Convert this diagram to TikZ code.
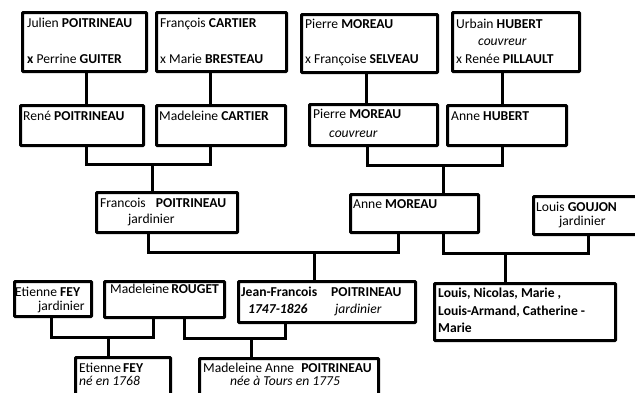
\documentclass[tikz,border=0pt]{standalone}
\usepackage{fontspec}
\setmainfont{Carlito}
\usetikzlibrary{shadows,backgrounds}
\begin{document}
\begin{tikzpicture}[x=1pt,y=-1pt,
  box/.style={draw=black,line width=3pt,anchor=north west,inner sep=0pt,fill=white,rounded corners=0.8pt,
    drop shadow={shadow xshift=1.2pt,shadow yshift=-1.2pt,fill=black,opacity=0.3}},
  txt/.style={anchor=base west,inner sep=0pt,font=\fontsize{13.6}{17}\selectfont},
  link/.style={line width=3pt,line join=miter}
]
\useasboundingbox (0,0) rectangle (635,392);
\clip (0,0) rectangle (635,392);

% generation 1
\node[box,minimum width=124pt,minimum height=59pt] (b1) at (21,11) {};
\node[box,minimum width=130pt,minimum height=59pt] (b2) at (155,11) {};
\node[box,minimum width=136pt,minimum height=58pt] (b3) at (300,13) {};
\node[box,minimum width=127pt,minimum height=59pt] (b4) at (451,11) {};
% generation 2
\node[box,minimum width=123pt,minimum height=40pt] (r1) at (19,104) {};
\node[box,minimum width=129pt,minimum height=40pt] (r2) at (155,104) {};
\node[box,minimum width=128pt,minimum height=41pt] (r3) at (308,103) {};
\node[box,minimum width=119pt,minimum height=40pt] (r4) at (446,104) {};
% generation 3
\node[box,minimum width=141pt,minimum height=40pt] (f1) at (95,191) {};
\node[box,minimum width=128pt,minimum height=38pt] (f2) at (349,193) {};
\node[box,minimum width=120pt,minimum height=38pt] (f3) at (532,195) {};
% generation 4
\node[box,minimum width=77pt,minimum height=35pt] (g1) at (13,280) {};
\node[box,minimum width=120pt,minimum height=36pt] (g2) at (103,280) {};
\node[box,minimum width=177pt,minimum height=41pt] (g3) at (237,280) {};
\node[box,minimum width=181pt,minimum height=57pt] (g4) at (433,282) {};
% generation 5
\node[box,minimum width=95pt,minimum height=50pt] (h1) at (74,356) {};
\node[box,minimum width=179pt,minimum height=50pt] (h2) at (198,357) {};

% texts
\node[txt] (t1) at (27,27) {Julien \textbf{POITRINEAU}};
\node[txt] (t2) at (27,63) {\textbf{x} Perrine \textbf{GUITER}};
\node[txt] (t3) at (160,27) {François \textbf{CARTIER}};
\node[txt] (t4) at (160,63) {x Marie \textbf{BRESTEAU}};
\node[txt] (t5) at (305,28) {Pierre \textbf{MOREAU}};
\node[txt] (t6) at (305,63) {x Françoise \textbf{SELVEAU}};
\node[txt] (t7) at (456,28) {Urbain \textbf{HUBERT}};
\node[txt] (t8) at (478,45) {\textit{couvreur}};
\node[txt] (t9) at (456,63) {x Renée \textbf{PILLAULT}};
\node[txt] (t10) at (23,120) {René \textbf{POITRINEAU}};
\node[txt] (t11) at (159,120) {Madeleine \textbf{CARTIER}};
\node[txt] (t12) at (313,118) {Pierre \textbf{MOREAU}};
\node[txt] (t13) at (329,137) {\textit{couvreur}};
\node[txt] (t14) at (451,120) {Anne \textbf{HUBERT}};
\node[txt] (t15) at (100,207) {Francois\hspace{7pt} \textbf{POITRINEAU}};
\node[txt] (t16) at (128,223) {jardinier};
\node[txt] (t17) at (353,208) {Anne \textbf{MOREAU}};
\node[txt] (t18) at (536,211) {Louis \textbf{GOUJON}};
\node[txt] (t19) at (559,225) {jardinier};
\node[txt] (t20) at (15,296) {Etienne \textbf{FEY}};
\node[txt] (t21) at (38,310) {jardinier};
\node[txt] (t22) at (110,293) {Madeleine\hspace{-1pt} \textbf{ROUGET}};
\node[txt] (t23) at (241,296) {\textbf{Jean-Francois}};
\node[txt] (t24) at (331,296) {\textbf{POITRINEAU}};
\node[txt] (t25) at (248,313) {\textbf{\textit{1747-1826}}};
\node[txt] (t26) at (335,313) {\textit{jardinier}};
\node[txt] (t27) at (438,297) {\textbf{Louis, Nicolas, Marie ,}};
\node[txt] (t28) at (438,315) {\textbf{Louis-Armand, Catherine -}};
\node[txt] (t29) at (438,332) {\textbf{Marie}};
\node[txt] (t30) at (79,372) {Etienne\hspace{-1pt} \textbf{FEY}};
\node[txt] (t31) at (79,385) {\textit{né en 1768}};
\node[txt] (t32) at (203,372) {Madeleine Anne\hspace{4pt} \textbf{POITRINEAU}};
\node[txt] (t33) at (230,385) {\textit{née à Tours en 1775}};

% junctions
\coordinate (j1) at (152,164);
\coordinate (j2) at (443,165);
\coordinate (j3) at (314,252);
\coordinate (j4) at (505,253);
\coordinate (j5) at (108,337);
\coordinate (j6) at (251,338);

\begin{scope}[on background layer]
\draw[link] (b1.south -| 86,0) -- (r1.north -| 86,0);
\draw[link] (b2.south -| 210,0) -- (r2.north -| 210,0);
\draw[link] (b3.south -| 366,0) -- (r3.north -| 366,0);
\draw[link] (b4.south -| 502,0) -- (r4.north -| 502,0);
\draw[link] (r1.south -| 86,0) |- (j1) -| (r2.south -| 210,0);
\draw[link] (j1) -- (f1.north -| j1);
\draw[link] (r3.south -| 367,0) |- (j2) -| (r4.south -| 502,0);
\draw[link] (j2) -- (f2.north -| j2);
\draw[link] (f1.south -| 148,0) |- (j3) -| (f2.south -| 398,0);
\draw[link] (j3) -- (g3.north -| j3);
\draw[link] (f2.south -| 443,0) |- (j4) -| (f3.south -| 588,0);
\draw[link] (j4) -- (g4.north -| j4);
\draw[link] (g1.south -| 51,0) |- (j5) -| (g2.south -| 153,0);
\draw[link] (j5) -- (h1.north -| j5);
\draw[link] (g2.south -| 184,0) |- (j6) -| (g3.south -| 285,0);
\draw[link] (j6) -- (h2.north -| j6);
\end{scope}
\end{tikzpicture}
\end{document}
